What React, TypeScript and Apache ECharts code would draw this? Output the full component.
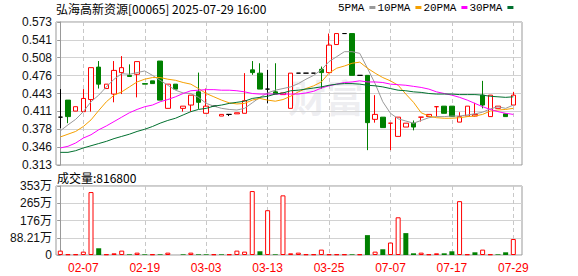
import { useEffect, useRef } from 'react';
import * as echarts from 'echarts';

const dates = [
  '02-04', '02-05', '02-06', '02-07', '02-10', '02-11', '02-12', '02-13', '02-14', '02-17',
  '02-18', '02-19', '02-20', '02-21', '02-24', '02-25', '02-26', '02-27', '02-28', '03-03',
  '03-04', '03-05', '03-06', '03-07', '03-10', '03-11', '03-12', '03-13', '03-14', '03-17',
  '03-18', '03-19', '03-20', '03-21', '03-24', '03-25', '03-26', '03-27', '03-28', '03-31',
  '07-02', '07-03', '07-04', '07-07', '07-08', '07-09', '07-10', '07-11', '07-14', '07-15',
  '07-16', '07-17', '07-18', '07-21', '07-22', '07-23', '07-24', '07-25', '07-28', '07-29',
];

const opens = [
  0.400, 0.431, 0.411, 0.410, 0.432, 0.491, 0.452, 0.442, 0.481, 0.476,
  0.478, 0.461, 0.466, 0.502, 0.416, 0.460, 0.416, 0.422, 0.446, 0.407,
  0.420, 0.402, 0.405, 0.406, 0.407, 0.486, 0.480, 0.451, 0.446, 0.441,
  0.416, 0.480, 0.480, 0.480, 0.487, 0.481, 0.532, 0.552, 0.552, 0.476,
  0.476, 0.396, 0.400, 0.389, 0.365, 0.382, 0.389, 0.400, 0.401, 0.419,
  0.420, 0.420, 0.391, 0.402, 0.402, 0.440, 0.401, 0.416, 0.406, 0.422,
];
const closes = [
  0.400, 0.401, 0.419, 0.434, 0.490, 0.460, 0.460, 0.485, 0.490, 0.474,
  0.501, 0.460, 0.461, 0.431, 0.460, 0.451, 0.420, 0.440, 0.427, 0.420,
  0.420, 0.405, 0.405, 0.408, 0.430, 0.481, 0.451, 0.451, 0.442, 0.444,
  0.480, 0.480, 0.480, 0.480, 0.481, 0.531, 0.552, 0.552, 0.476, 0.476,
  0.390, 0.405, 0.381, 0.389, 0.400, 0.389, 0.382, 0.400, 0.405, 0.419,
  0.407, 0.401, 0.401, 0.420, 0.405, 0.422, 0.440, 0.420, 0.401, 0.440,
];
const lows = [
  0.380, 0.389, 0.411, 0.410, 0.410, 0.452, 0.452, 0.427, 0.442, 0.474,
  0.436, 0.460, 0.461, 0.431, 0.416, 0.451, 0.410, 0.410, 0.415, 0.407,
  0.420, 0.402, 0.402, 0.406, 0.407, 0.477, 0.451, 0.425, 0.442, 0.441,
  0.416, 0.480, 0.480, 0.480, 0.452, 0.481, 0.532, 0.552, 0.476, 0.476,
  0.340, 0.390, 0.381, 0.340, 0.365, 0.382, 0.376, 0.392, 0.401, 0.401,
  0.407, 0.401, 0.391, 0.402, 0.401, 0.416, 0.401, 0.416, 0.401, 0.422,
];
const highs = [
  0.451, 0.431, 0.419, 0.451, 0.490, 0.502, 0.460, 0.502, 0.511, 0.496,
  0.501, 0.461, 0.466, 0.502, 0.460, 0.460, 0.420, 0.440, 0.481, 0.452,
  0.420, 0.405, 0.405, 0.408, 0.480, 0.502, 0.498, 0.486, 0.498, 0.444,
  0.480, 0.480, 0.480, 0.480, 0.492, 0.552, 0.552, 0.552, 0.552, 0.476,
  0.476, 0.440, 0.400, 0.389, 0.400, 0.389, 0.394, 0.400, 0.405, 0.419,
  0.420, 0.420, 0.409, 0.420, 0.426, 0.466, 0.440, 0.420, 0.406, 0.446,
];
const volumes = [
  224000, 34000, 34000, 172000, 3219000, 344000, 34000, 86000, 224000, 34000,
  120000, 34000, 34000, 34000, 120000, 0, 34000, 120000, 34000, 34000,
  34000, 34000, 34000, 224000, 172000, 3270000, 189000, 2290000, 34000, 3050000,
  86000, 120000, 34000, 34000, 275000, 34000, 34000, 34000, 34000, 34000,
  1016000, 172000, 293000, 637000, 1928000, 1119000, 86000, 120000, 34000, 86000,
  86000, 189000, 2754000, 34000, 138000, 275000, 34000, 34000, 138000, 816800,
];

const ma5 = [
  0.375, 0.386, 0.396, 0.410, 0.428, 0.440, 0.455, 0.469, 0.479, 0.478,
  0.481, 0.484, 0.476, 0.467, 0.458, 0.449, 0.444, 0.443, 0.436, 0.425,
  0.420, 0.416, 0.414, 0.413, 0.416, 0.426, 0.436, 0.444, 0.449, 0.452,
  0.455, 0.461, 0.469, 0.476, 0.486, 0.501, 0.510, 0.519, 0.519, 0.516,
  0.489, 0.461, 0.428, 0.407, 0.397, 0.393, 0.389, 0.394, 0.399, 0.401,
  0.401, 0.402, 0.402, 0.404, 0.406, 0.409, 0.415, 0.419, 0.416, 0.422,
];
const ma10 = [
  0.364, 0.369, 0.374, 0.383, 0.395, 0.412, 0.428, 0.440, 0.446, 0.455,
  0.464, 0.469, 0.472, 0.472, 0.469, 0.467, 0.463, 0.460, 0.452, 0.443,
  0.437, 0.431, 0.426, 0.424, 0.425, 0.431, 0.434, 0.431, 0.429, 0.432,
  0.438, 0.446, 0.452, 0.457, 0.464, 0.480, 0.489, 0.493, 0.498, 0.500,
  0.489, 0.480, 0.472, 0.466, 0.458, 0.442, 0.427, 0.408, 0.402, 0.399,
  0.398, 0.398, 0.399, 0.401, 0.402, 0.405, 0.411, 0.413, 0.414, 0.416,
];
const ma20 = [
  0.344, 0.347, 0.353, 0.362, 0.368, 0.377, 0.384, 0.392, 0.400, 0.408,
  0.414, 0.419, 0.422, 0.428, 0.432, 0.437, 0.443, 0.448, 0.449, 0.450,
  0.450, 0.449, 0.449, 0.448, 0.446, 0.443, 0.442, 0.442, 0.442, 0.442,
  0.442, 0.442, 0.444, 0.447, 0.453, 0.457, 0.460, 0.463, 0.464, 0.466,
  0.464, 0.464, 0.463, 0.460, 0.459, 0.458, 0.456, 0.454, 0.451, 0.446,
  0.443, 0.440, 0.436, 0.431, 0.425, 0.419, 0.414, 0.410, 0.407, 0.405,
];
const ma30 = [
  0.336, 0.336, 0.339, 0.344, 0.348, 0.352, 0.356, 0.361, 0.365, 0.369,
  0.374, 0.378, 0.383, 0.389, 0.394, 0.398, 0.404, 0.410, 0.414, 0.416,
  0.420, 0.422, 0.425, 0.427, 0.429, 0.434, 0.436, 0.438, 0.442, 0.444,
  0.448, 0.449, 0.451, 0.453, 0.455, 0.458, 0.460, 0.461, 0.461, 0.460,
  0.458, 0.457, 0.455, 0.452, 0.449, 0.448, 0.446, 0.445, 0.443, 0.442,
  0.442, 0.442, 0.441, 0.441, 0.441, 0.440, 0.438, 0.437, 0.436, 0.437,
];

const priceTickLabels = ['0.313', '0.346', '0.378', '0.411', '0.443', '0.476', '0.508', '0.541', '0.573'];
const volTickLabels = ['0', '88.21万', '176万', '265万', '353万'];
const dateLabelIndices = [3, 11, 19, 27, 35, 43, 51, 59];

const PRICE_MIN = 0.313;
const PRICE_MAX = 0.573;
const PRICE_STEP = 0.0325;
const VOL_MAX = 3528400;
const VOL_STEP = 882100;

const UP = '#ff0000';
const DOWN = '#008000';
const FLAT = '#000000';
const SANS = "'Liberation Sans', 'Noto Sans CJK SC', sans-serif";
const CJK = "'Noto Sans CJK SC', 'Liberation Sans', sans-serif";

export default function App() {
  const ref = useRef<HTMLDivElement>(null);

  useEffect(() => {
    if (!ref.current) return;
    const chart = echarts.init(ref.current, undefined, { renderer: 'svg' });

    const candleData = dates.map((_, i) => {
      const o = opens[i];
      const c = closes[i];
      const prev = i > 0 ? closes[i - 1] : c;
      const dir = c > o ? 1 : c < o ? -1 : c > prev ? 1 : c < prev ? -1 : 0;
      const stroke = dir > 0 ? UP : dir < 0 ? DOWN : FLAT;
      const fill = dir > 0 ? '#ffffff' : stroke;
      return {
        value: [i, o, c, lows[i], highs[i]],
        itemStyle: {
          color: fill,
          color0: fill,
          borderColor: stroke,
          borderColor0: stroke,
          borderColorDoji: stroke,
          borderWidth: 1,
        },
      };
    });

    const volData = volumes.map((v, i) => {
      const up = i === 0 || closes[i] >= closes[i - 1];
      return {
        value: [i, v],
        itemStyle: up
          ? { color: '#ffffff', borderColor: UP, borderWidth: 1 }
          : { color: DOWN, borderWidth: 0 },
      };
    });

    const maSeries = [
      { name: '5PMA', data: ma5, color: '#999999' },
      { name: '10PMA', data: ma10, color: '#f5a000' },
      { name: '20PMA', data: ma20, color: '#ff00ff' },
      { name: '30PMA', data: ma30, color: '#00702f' },
    ].map((m) => ({
      type: 'line' as const,
      name: m.name,
      xAxisIndex: 0,
      yAxisIndex: 0,
      data: m.data.map((v, i) => [i, v]),
      symbol: 'none',
      showSymbol: false,
      lineStyle: { width: 1, color: m.color },
      itemStyle: { color: m.color },
      z: 3,
    }));

    const xCommon = {
      type: 'value' as const,
      min: -0.56,
      max: 60.13,
      axisLine: { show: false },
      axisTick: { show: false, customValues: dateLabelIndices },
      splitLine: { show: true, lineStyle: { type: [4, 3], color: '#c8c8c8', width: 1 } },
    };

    chart.setOption({
      animation: false,
      backgroundColor: '#ffffff',
      title: [
        {
          text: '弘海高新资源[00065] 2025-07-29 16:00',
          left: 56,
          top: 2,
          padding: 0,
          textStyle: { fontSize: 12, fontWeight: 'normal', color: '#000', fontFamily: CJK },
        },
        {
          text: `成交量:${volumes[volumes.length - 1]}`,
          left: 57,
          top: 171,
          padding: 0,
          textStyle: { fontSize: 12, fontWeight: 'normal', color: '#000', fontFamily: CJK },
        },
      ],
      legend: {
        left: 338,
        top: 2,
        padding: 0,
        align: 'right',
        icon: 'rect',
        itemWidth: 6,
        itemHeight: 3,
        itemGap: 2,
        textStyle: { fontFamily: "'Liberation Mono', monospace", fontSize: 11, color: '#000' },
        data: ['5PMA', '10PMA', '20PMA', '30PMA'],
      },
      graphic: [
        {
          type: 'text',
          left: 288,
          top: 76,
          silent: true,
          z: 0,
          style: {
            text: '财富',
            fontSize: 38,
            fontWeight: 'bold',
            fontFamily: CJK,
            fill: 'rgba(150,150,170,0.16)',
          },
        },
      ],
      grid: [
        { left: 56, top: 22, width: 466, height: 143, show: true, borderColor: '#999', borderWidth: 1, backgroundColor: 'transparent' },
        { left: 56, top: 186, width: 466, height: 69, show: true, borderColor: '#999', borderWidth: 1, backgroundColor: 'transparent' },
      ],
      xAxis: [
        { ...xCommon, gridIndex: 0, axisLabel: { show: false } },
        {
          ...xCommon,
          gridIndex: 1,
          axisLabel: {
            show: true,
            customValues: dateLabelIndices,
            formatter: (v: number) => dates[Math.round(v)] ?? '',
            color: '#ff0000',
            fontSize: 12,
            fontFamily: SANS,
            margin: 7,
          },
        },
      ],
      yAxis: [
        {
          type: 'value',
          gridIndex: 0,
          min: PRICE_MIN,
          max: PRICE_MAX,
          interval: PRICE_STEP,
          axisLine: { show: true, lineStyle: { color: '#999' } },
          axisTick: { show: true, length: 3, lineStyle: { color: '#999' } },
          axisLabel: {
            formatter: (v: number) => priceTickLabels[Math.round((v - PRICE_MIN) / PRICE_STEP)] ?? '',
            color: '#111',
            fontSize: 12,
            fontFamily: SANS,
            margin: 4,
          },
          splitLine: { show: true, lineStyle: { color: '#d2d2d2', width: 1 } },
        },
        {
          type: 'value',
          gridIndex: 1,
          min: 0,
          max: VOL_MAX,
          interval: VOL_STEP,
          axisLine: { show: true, lineStyle: { color: '#999' } },
          axisTick: { show: true, length: 3, lineStyle: { color: '#999' } },
          axisLabel: {
            formatter: (v: number) => volTickLabels[Math.round(v / VOL_STEP)] ?? '',
            color: '#111',
            fontSize: 12,
            fontFamily: SANS,
            margin: 4,
          },
          splitLine: { show: true, lineStyle: { color: '#d2d2d2', width: 1 } },
        },
      ],
      series: [
        {
          type: 'candlestick',
          name: 'K',
          xAxisIndex: 0,
          yAxisIndex: 0,
          barWidth: 5,
          data: candleData,
          z: 2,
        },
        ...maSeries,
        {
          type: 'bar',
          name: '成交量',
          xAxisIndex: 1,
          yAxisIndex: 1,
          barWidth: 5,
          data: volData,
        },
      ],
    });

    return () => {
      chart.dispose();
    };
  }, []);

  return (
    <div
      ref={ref}
      style={{ position: 'fixed', left: 0, top: 0, width: 578, height: 276, background: '#fff' }}
    />
  );
}
